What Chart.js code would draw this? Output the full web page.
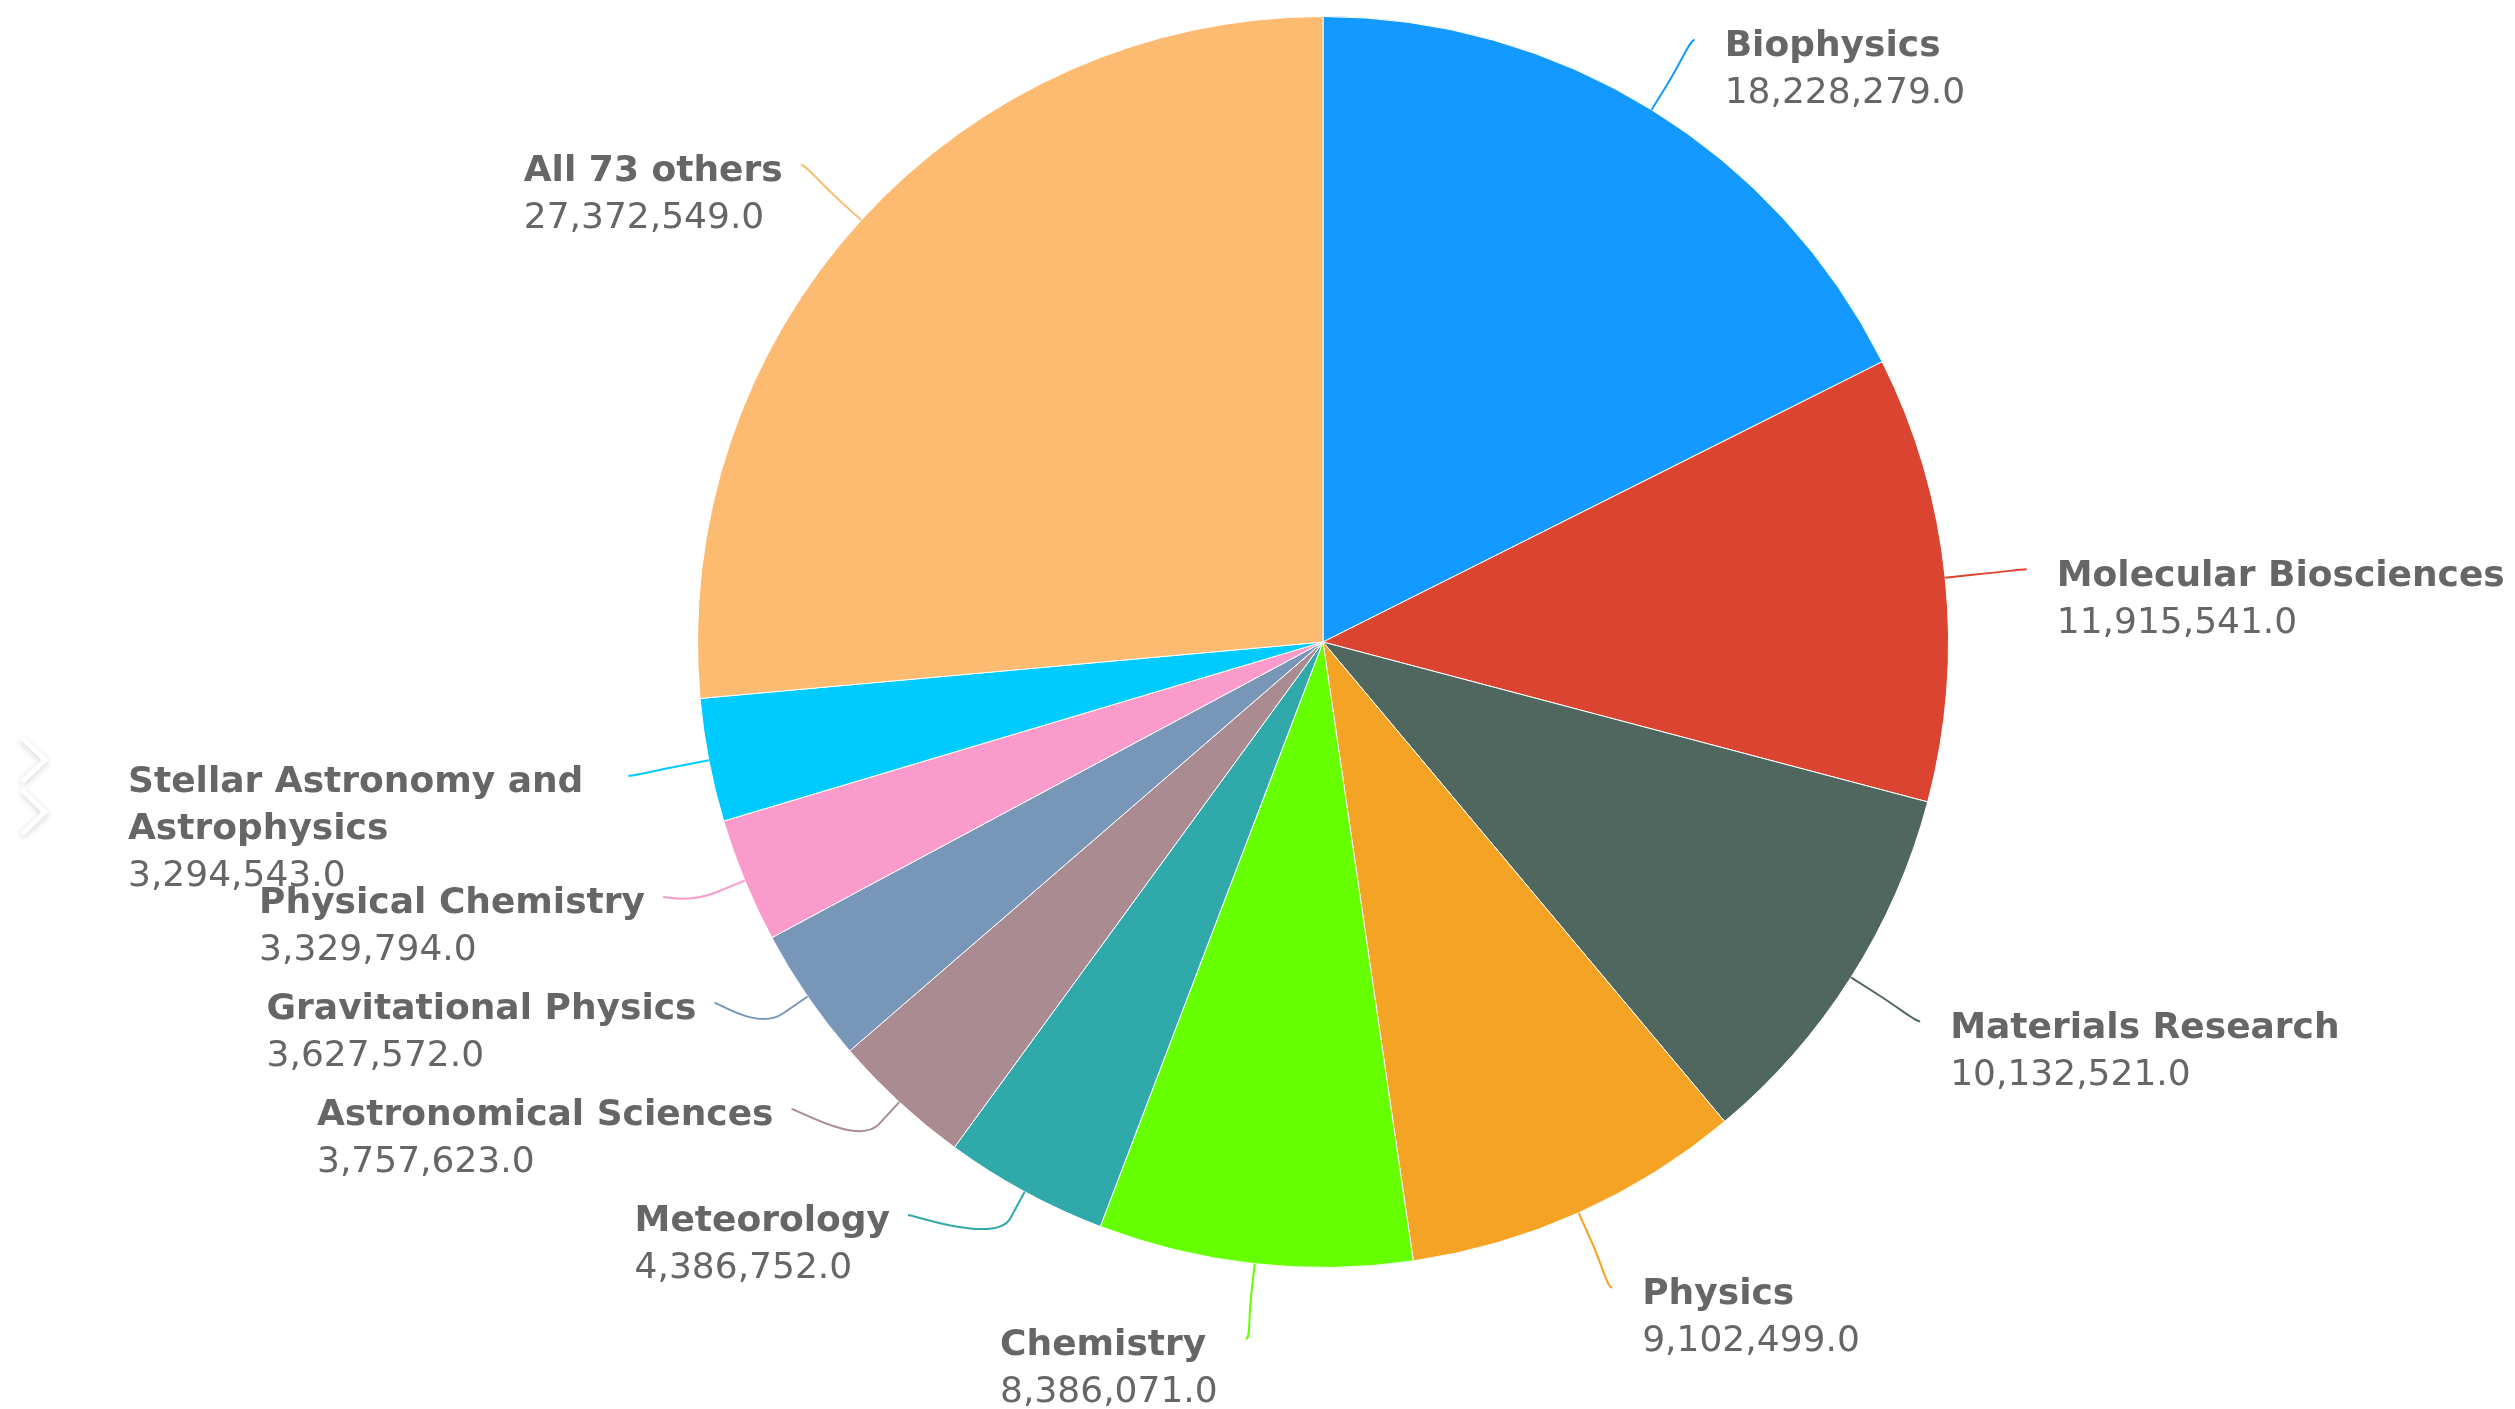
<!DOCTYPE html>
<html>
<head>
<meta charset="utf-8">
<script src="https://cdn.jsdelivr.net/npm/chart.js@4.4.1/dist/chart.umd.min.js"></script>
<style>
  html, body { margin: 0; padding: 0; background: #ffffff; }
  #wrap { width: 2515px; height: 1409px; position: relative; }
</style>
</head>
<body>
<div id="wrap"><canvas id="pieChart" width="2515" height="1409"></canvas></div>
<script>
var categories = [
    "Biophysics",
    "Molecular Biosciences",
    "Materials Research",
    "Physics",
    "Chemistry",
    "Meteorology",
    "Astronomical Sciences",
    "Gravitational Physics",
    "Physical Chemistry",
    "Stellar Astronomy and Astrophysics",
    "All 73 others"
];
var amounts = [18228279, 11915541, 10132521, 9102499, 8386071, 4386752, 3757623, 3627572, 3329794, 3294543, 27372549];
var sliceColors = ["#1399ff", "#db4430", "#4f675e", "#f4a325", "#66ff00", "#2fa9aa", "#a98b91", "#7897b8", "#fb9bcb", "#00cbff", "#fdbb72"];

var labelFont = 'bold 36px "DejaVu Sans"';
var valueFont = '36px "DejaVu Sans"';
var lineH = 47;
var leftEdge = 128; // left limit for wrapped labels

function fmt(v) {
    return v.toLocaleString("en-US", { minimumFractionDigits: 1, maximumFractionDigits: 1 });
}

function wrapWords(ctx, text, maxW) {
    var words = text.split(" ");
    var lines = [];
    var cur = "";
    words.forEach(function (w) {
        var test = cur ? cur + " " + w : w;
        if (cur && ctx.measureText(test).width > maxW) {
            lines.push(cur);
            cur = w;
        } else {
            cur = test;
        }
    });
    if (cur) lines.push(cur);
    return lines;
}

// labels outside the pie with curved connector lines
var pieLabels = {
    id: "pieLabels",
    afterDatasetsDraw: function (chart) {
        var ctx = chart.ctx;
        var arcs = chart.getDatasetMeta(0).data;
        var items = arcs.map(function (arc, i) {
            var a = (arc.startAngle + arc.endAngle) / 2;
            var r = arc.outerRadius;
            var R = r + 82;
            var c = Math.cos(a);
            return {
                i: i, cx: arc.x, cy: arc.y, R: R,
                tx: arc.x + r * c, ty: arc.y + r * Math.sin(a),
                bx: arc.x + (r + 30) * c, by: arc.y + (r + 30) * Math.sin(a),
                ex: arc.x + R * c, ey: arc.y + R * Math.sin(a),
                left: c < 0,
                bottom: Math.abs(c) < 0.17 && Math.sin(a) > 0
            };
        });

        items.forEach(function (d) {
            if (d.bottom) d.ey = Math.min(d.ey, chart.height - 70);
            if (!d.left) d.ey = Math.max(d.ey, 38);
        });

        // push crowded left-side labels upward, keep them on the label circle
        var leftSide = items.filter(function (d) { return d.left && !d.bottom; })
            .sort(function (p, q) { return q.ey - p.ey; });
        var limit = chart.height - 194;
        leftSide.forEach(function (d) {
            if (d.ey > limit) {
                d.ey = limit;
                var dy = d.ey - d.cy;
                d.ex = d.cx - Math.sqrt(Math.max(d.R * d.R - dy * dy, 0));
            }
            limit = d.ey - 106;
        });

        ctx.save();
        items.forEach(function (d) {
            var c1x = d.ex + (d.left ? 5 : -5);
            ctx.beginPath();
            ctx.moveTo(d.ex, d.ey);
            ctx.bezierCurveTo(c1x, d.ey, 2 * d.bx - d.tx, 2 * d.by - d.ty, d.bx, d.by);
            ctx.lineTo(d.tx, d.ty);
            ctx.strokeStyle = sliceColors[d.i];
            ctx.lineWidth = 2;
            ctx.stroke();
        });

        ctx.textBaseline = "middle";
        ctx.textAlign = "left";
        ctx.fillStyle = "#666666";
        items.forEach(function (d) {
            var gap = d.bottom ? 28 : (d.left ? 18 : 30);
            ctx.font = labelFont;
            var maxW = d.left ? d.ex - gap - leftEdge : 100000;
            var lines = wrapWords(ctx, categories[d.i], maxW);
            var valText = fmt(amounts[d.i]);
            var w = 0;
            lines.forEach(function (l) { w = Math.max(w, ctx.measureText(l).width); });
            ctx.font = valueFont;
            w = Math.max(w, ctx.measureText(valText).width);
            if (lines.length > 1) w = maxW;
            var x = d.left ? d.ex - gap - w : d.ex + gap;
            var y = d.ey + 7;
            ctx.font = labelFont;
            lines.forEach(function (l, k) {
                ctx.fillText(l, x, y + k * lineH);
            });
            ctx.font = valueFont;
            ctx.fillText(valText, x, y + lines.length * lineH);
        });

        // faint navigation chevrons at the left edge
        ctx.shadowColor = "rgba(0,0,0,0.18)";
        ctx.shadowBlur = 6;
        ctx.shadowOffsetY = 2;
        ctx.strokeStyle = "#ffffff";
        ctx.lineWidth = 5;
        [738, 790].forEach(function (top) {
            ctx.beginPath();
            ctx.moveTo(22, top);
            ctx.lineTo(45, top + 22);
            ctx.lineTo(22, top + 44);
            ctx.stroke();
        });
        ctx.restore();
    }
};

var pieChart = new Chart(document.getElementById("pieChart"), {
    type: "pie",
    data: {
        labels: categories,
        datasets: [
            {
                data: amounts,
                backgroundColor: sliceColors,
                borderColor: "#ffffff",
                borderWidth: 1
            }
        ]
    },
    options: {
        responsive: false,
        devicePixelRatio: 1,
        animation: false,
        layout: { padding: { left: 131, right: 0, top: 16, bottom: 141 } },
        plugins: {
            legend: { display: false },
            tooltip: { enabled: false }
        }
    },
    plugins: [pieLabels]
});
</script>
</body>
</html>
